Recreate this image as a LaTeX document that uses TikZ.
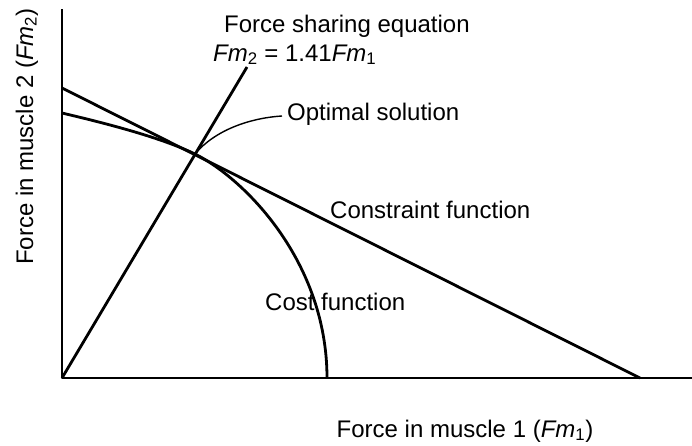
\documentclass[tikz,border=0pt]{standalone}
\usepackage{fontspec}
\setmainfont{Liberation Sans}
\usetikzlibrary{positioning}

\tikzset{
    curve/.style={line width=2.8pt, line join=round},
    label/.style={font=\fontsize{24}{28}\selectfont, inner sep=0pt}
}

\begin{document}
\begin{tikzpicture}[x=1pt, y=-1pt]

            \useasboundingbox (0,0) rectangle (692,445);

            % axes
            \coordinate (origin) at (62,378);
            \coordinate (ytop) at (62,9);
            \coordinate (xend) at (692,378);
            \draw[curve] (ytop) -- (origin) -- (xend);

            % constraint function
            \coordinate (cstart) at (62,88);
            \coordinate (cend) at (640,378);
            \draw[curve] (cstart) -- (cend);

            % cost function
            \coordinate (optimum) at (195,154);
            \coordinate (coststart) at (62,113);
            \coordinate (costend) at (327,378);
            \draw[curve] (coststart) .. controls (100,122) and (159,136.5) .. (optimum)
                .. controls (245,179) and (327,262) .. (costend);

            % force sharing line
            \coordinate (shareend) at (247,67);
            \draw[curve] (origin) -- (shareend);

            \node[label, anchor=base west] (eqtitle) at (224,32) {Force sharing equation};
            \node[label, anchor=base west] (equation) at (213,61)
                {\textit{Fm}\textsubscript{2} = 1.41\textit{Fm}\textsubscript{1}};
            \node[label, anchor=base west] (optlabel) at (287,120) {Optimal solution};
            \node[label, anchor=base west] (conlabel) at (330,218) {Constraint function};
            \node[label, anchor=base west] (costlabel) at (265,310) {Cost function};
            \node[label, anchor=base] (xlabel) at (465,437) {Force in muscle 1 (\textit{Fm}\textsubscript{1})};
            \node[label, rotate=90, anchor=base west] (ylabel) at (33,265) {Force in muscle 2 (\textit{Fm}\textsubscript{2})};

            \draw[line width=1.4pt] (optimum) .. controls (215,130) and (250,118) .. ([xshift=-5pt, yshift=4pt]optlabel.base west);

\end{tikzpicture}
\end{document}
